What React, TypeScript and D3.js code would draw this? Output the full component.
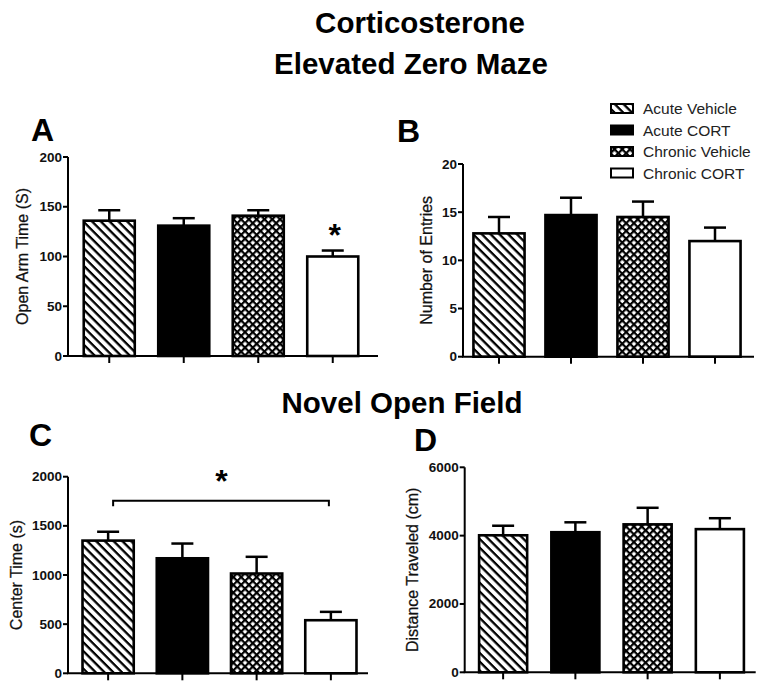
import React from "react";
import * as d3 from "d3";

const categories = ["Acute Vehicle", "Acute CORT", "Chronic Vehicle", "Chronic CORT"];
const fills = ["url(#diag)", "#000", "url(#cross)", "#fff"];

const openArmMean = [136, 131, 141, 100];
const openArmSem = [10.5, 7.5, 5.5, 6];
const openArmTicks = [0, 50, 100, 150, 200];

const entriesMean = [12.8, 14.7, 14.5, 12.0];
const entriesSem = [1.7, 1.8, 1.6, 1.4];
const entriesTicks = [0, 5, 10, 15, 20];

const centerMean = [1350, 1170, 1015, 540];
const centerSem = [90, 150, 170, 85];
const centerTicks = [0, 500, 1000, 1500, 2000];

const distMean = [4010, 4100, 4330, 4190];
const distSem = [280, 290, 485, 320];
const distTicks = [0, 2000, 4000, 6000];

const FONT = "'Liberation Sans', Arial, Helvetica, sans-serif";

type PanelProps = {
  letter: string;
  letterX: number;
  letterY: number;
  yLabel: string;
  yLabelX: number;
  mean: number[];
  sem: number[];
  ticks: number[];
  left: number;
  right: number;
  top: number;
  bottom: number;
  xr: [number, number];
  barFrac: number;
  star?: number;
  bracket?: { y: number; tail: number; starY: number };
};

function Panel(p: PanelProps) {
  const yMax = p.ticks[p.ticks.length - 1];
  const y = d3.scaleLinear().domain([0, yMax]).range([p.bottom, p.top]);
  const x = d3.scaleBand<string>().domain(categories).range(p.xr).padding(0);
  const step = x.bandwidth();
  const bw = step * p.barFrac;
  const cx = (c: string) => (x(c) as number) + step / 2;
  const capW = 22;
  return (
    <g>
      <text x={p.letterX} y={p.letterY} fontSize={32} fontWeight="bold" fontFamily={FONT}>{p.letter}</text>
      <text
        transform={`translate(${p.yLabelX},${(p.top + p.bottom) / 2}) rotate(-90)`}
        textAnchor="middle"
        dominantBaseline="central"
        fontSize={16}
        fontFamily={FONT}
        fill="#111"
        stroke="#111"
        strokeWidth={0.25}
      >
        {p.yLabel}
      </text>
      {categories.map((c, i) => {
        const v = p.mean[i];
        const e = v + p.sem[i];
        return (
          <g key={c}>
            <line x1={cx(c)} x2={cx(c)} y1={y(v)} y2={y(e)} stroke="#000" strokeWidth={2.5} />
            <line x1={cx(c) - capW / 2} x2={cx(c) + capW / 2} y1={y(e)} y2={y(e)} stroke="#000" strokeWidth={2.5} />
            <rect
              x={cx(c) - bw / 2}
              y={y(v)}
              width={bw}
              height={y(0) - y(v)}
              fill={fills[i]}
              stroke="#000"
              strokeWidth={2.6}
            />
          </g>
        );
      })}
      <line x1={p.left} x2={p.left} y1={p.top} y2={p.bottom} stroke="#000" strokeWidth={2} />
      {p.ticks.map((t) => (
        <g key={t}>
          <line x1={p.left - 5} x2={p.left} y1={y(t)} y2={y(t)} stroke="#000" strokeWidth={2} />
          <text
            x={p.left - 6}
            y={y(t)}
            textAnchor="end"
            dominantBaseline="central"
            fontSize={13.5}
            fontWeight="bold"
            fontFamily={FONT}
            fill="#111"
          >
            {t}
          </text>
        </g>
      ))}
      <line x1={p.left - 1} x2={p.right} y1={p.bottom} y2={p.bottom} stroke="#000" strokeWidth={2} />
      {categories.map((c) => (
        <line key={c} x1={cx(c)} x2={cx(c)} y1={p.bottom} y2={p.bottom + 7} stroke="#000" strokeWidth={2} />
      ))}
      {p.star !== undefined && (
        <text
          x={cx(categories[p.star]) + 2}
          y={y(p.mean[p.star] + p.sem[p.star]) - 5}
          textAnchor="middle"
          fontSize={32}
          fontWeight="bold"
          fontFamily={FONT}
        >
          *
        </text>
      )}
      {p.bracket && (
        <g>
          <path
            d={`M${cx(categories[0]) + 5},${y(p.bracket.tail)}V${y(p.bracket.y)}H${cx(categories[3]) - 2}V${y(p.bracket.tail)}`}
            fill="none"
            stroke="#000"
            strokeWidth={2}
          />
          <text
            x={(cx(categories[0]) + cx(categories[3])) / 2 + 2}
            y={y(p.bracket.starY)}
            textAnchor="middle"
            fontSize={32}
            fontWeight="bold"
            fontFamily={FONT}
          >
            *
          </text>
        </g>
      )}
    </g>
  );
}

export default function App() {
  const legendY = d3.scalePoint<string>().domain(categories).range([108.5, 173]);
  return (
    <svg width={768} height={691} style={{ position: "absolute", left: 0, top: 0, background: "#fff" }}>
      <defs>
        <pattern id="diag" patternUnits="userSpaceOnUse" width={6.2} height={6.2} patternTransform="rotate(-45)">
          <rect width={6.2} height={6.2} fill="#fff" />
          <line x1={1.5} x2={1.5} y1={0} y2={6.2} stroke="#000" strokeWidth={2.3} />
        </pattern>
        <pattern id="cross" patternUnits="userSpaceOnUse" width={5.5} height={5.5} patternTransform="rotate(45)">
          <rect width={5.5} height={5.5} fill="#fff" />
          <line x1={1.1} x2={1.1} y1={0} y2={5.5} stroke="#000" strokeWidth={2.2} />
          <line x1={0} x2={5.5} y1={1.1} y2={1.1} stroke="#000" strokeWidth={2.2} />
        </pattern>
      </defs>
      <rect width={768} height={691} fill="#fff" />
      <g fontFamily={FONT} fontWeight="bold" fontSize={29.5} textAnchor="middle" fill="#000">
        <text x={420} y={33}>Corticosterone</text>
        <text x={411} y={74}>Elevated Zero Maze</text>
        <text x={402} y={413}>Novel Open Field</text>
      </g>
      <Panel
        letter="A" letterX={31} letterY={141} yLabel="Open Arm Time (S)" yLabelX={22}
        mean={openArmMean} sem={openArmSem} ticks={openArmTicks}
        left={68} right={378} top={157} bottom={356} xr={[72, 370]} barFrac={0.685} star={3}
      />
      <Panel
        letter="B" letterX={397} letterY={142} yLabel="Number of Entries" yLabelX={426}
        mean={entriesMean} sem={entriesSem} ticks={entriesTicks}
        left={463} right={754} top={164} bottom={356.7} xr={[463, 751]} barFrac={0.71}
      />
      <Panel
        letter="C" letterX={29} letterY={446} yLabel="Center Time (s)" yLabelX={16}
        mean={centerMean} sem={centerSem} ticks={centerTicks}
        left={68} right={368} top={476.7} bottom={673.3} xr={[71, 368]} barFrac={0.69}
        bracket={{ y: 1755, tail: 1700, starY: 1840 }}
      />
      <Panel
        letter="D" letterX={414} letterY={451} yLabel="Distance Traveled (cm)" yLabelX={412}
        mean={distMean} sem={distSem} ticks={distTicks}
        left={464.7} right={755.7} top={467.3} bottom={672.3} xr={[467, 756]} barFrac={0.665}
      />
      {categories.map((c, i) => (
        <g key={c}>
          <rect x={611} y={(legendY(c) as number) - 4.5} width={22} height={9} fill={fills[i]} stroke="#000" strokeWidth={2} />
          <text x={643} y={legendY(c)} dominantBaseline="central" fontSize={15.5} fontFamily={FONT} fill="#222">
            {c}
          </text>
        </g>
      ))}
    </svg>
  );
}
